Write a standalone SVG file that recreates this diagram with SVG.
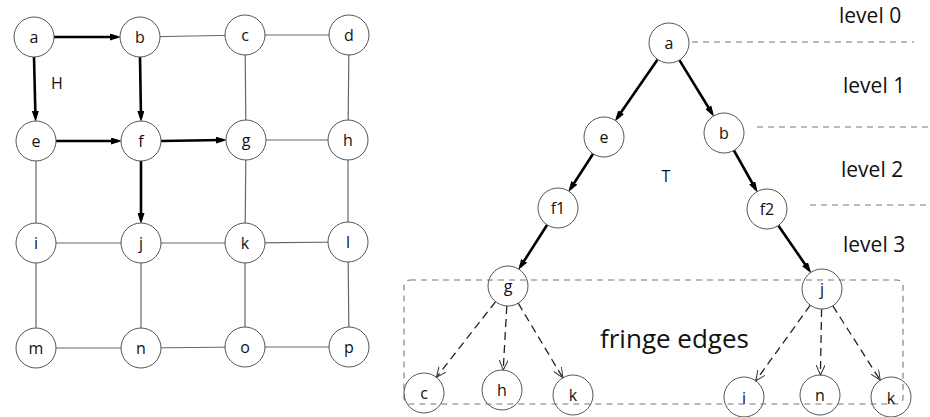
<svg xmlns="http://www.w3.org/2000/svg" width="930" height="417" viewBox="0 0 930 417">
<defs>
<style>
.n circle{fill:#fff;stroke:#555;stroke-width:1}
.n text{font-family:"Open Sans","Noto Sans",sans-serif;font-size:16px;fill:#111;text-anchor:middle}
.thin{stroke:#666;stroke-width:1.2;fill:none}
.thick{stroke:#000;stroke-width:2.6;fill:none;marker-end:url(#ah)}
.dash{stroke:#222;stroke-width:1.3;stroke-dasharray:8,5;fill:none;marker-end:url(#oh)}
.lev{stroke:#777;stroke-width:1.1;stroke-dasharray:6,5;fill:none}
.big{font-family:"Open Sans","Noto Sans",sans-serif;fill:#111}
</style>
<marker id="ah" markerUnits="userSpaceOnUse" markerWidth="12" markerHeight="7" refX="7" refY="3.5" orient="auto">
<path d="M0,0 L11,3.5 L0,7 z" fill="#000"/>
</marker>
<marker id="oh" markerUnits="userSpaceOnUse" markerWidth="11" markerHeight="10" refX="10" refY="4.5" orient="auto">
<path d="M0,0 L10,4.5 L0,9" fill="none" stroke="#333" stroke-width="1"/>
</marker>
</defs>
<rect width="930" height="417" fill="#fff"/>

<g id="connectors">
<line class="thin" x1="140" y1="37" x2="245" y2="35"/>
<line class="thin" x1="245" y1="35" x2="349" y2="35"/>
<line class="thin" x1="245" y1="35" x2="246" y2="140"/>
<line class="thin" x1="349" y1="35" x2="348" y2="140"/>
<line class="thin" x1="246" y1="140" x2="348" y2="140"/>
<line class="thin" x1="36" y1="141" x2="36" y2="243"/>
<line class="thin" x1="246" y1="140" x2="245" y2="243"/>
<line class="thin" x1="348" y1="140" x2="348" y2="242"/>
<line class="thin" x1="36" y1="243" x2="141" y2="243"/>
<line class="thin" x1="141" y1="243" x2="245" y2="243"/>
<line class="thin" x1="245" y1="243" x2="348" y2="242"/>
<line class="thin" x1="36" y1="243" x2="36" y2="348"/>
<line class="thin" x1="141" y1="243" x2="141" y2="348"/>
<line class="thin" x1="245" y1="243" x2="245" y2="347"/>
<line class="thin" x1="348" y1="242" x2="349" y2="347"/>
<line class="thin" x1="36" y1="348" x2="141" y2="348"/>
<line class="thin" x1="141" y1="348" x2="245" y2="347"/>
<line class="thin" x1="245" y1="347" x2="349" y2="347"/>
<line class="thick" x1="54" y1="37" x2="117" y2="37"/>
<line class="thick" x1="34" y1="57" x2="35.5" y2="118"/>
<line class="thick" x1="140" y1="57" x2="141" y2="118"/>
<line class="thick" x1="56" y1="141" x2="118" y2="141"/>
<line class="thick" x1="161" y1="141" x2="223" y2="140"/>
<line class="thick" x1="141" y1="161" x2="141" y2="220"/>
<line class="lev" x1="692" y1="42" x2="914" y2="42"/>
<line class="lev" x1="757" y1="127" x2="930" y2="127"/>
<line class="lev" x1="810" y1="205" x2="930" y2="205"/>
<line class="thick" x1="657.6" y1="59.4" x2="617.1" y2="118.1"/>
<line class="thick" x1="679.4" y1="60.1" x2="712.0" y2="113.3"/>
<line class="thick" x1="593.1" y1="153.8" x2="570.5" y2="188.7"/>
<line class="thick" x1="733.9" y1="150.4" x2="755.6" y2="189.0"/>
<line class="thick" x1="547.2" y1="224.8" x2="520.4" y2="266.7"/>
<line class="thick" x1="778.3" y1="225.5" x2="809.0" y2="270.0"/>
<rect class="lev" x="404" y="280" width="499" height="124" rx="6"/>
<line class="dash" x1="495.6" y1="301.7" x2="436.4" y2="377.3"/>
<line class="dash" x1="506.8" y1="306" x2="503.2" y2="370"/>
<line class="dash" x1="518.2" y1="303.2" x2="562.8" y2="377.8"/>
<line class="dash" x1="810.3" y1="305.2" x2="755.7" y2="380.8"/>
<line class="dash" x1="821.6" y1="309" x2="820.4" y2="375"/>
<line class="dash" x1="832.8" y1="305.8" x2="880.2" y2="380.2"/>
</g>

<g id="grid-a" class="n"><circle cx="34" cy="37" r="20"/><text x="34" y="42.5">a</text></g>
<g id="grid-b" class="n"><circle cx="140" cy="37" r="20"/><text x="140" y="42.5">b</text></g>
<g id="grid-c" class="n"><circle cx="245" cy="35" r="20"/><text x="245" y="40.5">c</text></g>
<g id="grid-d" class="n"><circle cx="349" cy="35" r="20"/><text x="349" y="40.5">d</text></g>
<g id="grid-e" class="n"><circle cx="36" cy="141" r="20"/><text x="36" y="146.5">e</text></g>
<g id="grid-f" class="n"><circle cx="141" cy="141" r="20"/><text x="141" y="146.5">f</text></g>
<g id="grid-g" class="n"><circle cx="246" cy="140" r="20"/><text x="246" y="145.5">g</text></g>
<g id="grid-h" class="n"><circle cx="348" cy="140" r="20"/><text x="348" y="145.5">h</text></g>
<g id="grid-i" class="n"><circle cx="36" cy="243" r="20"/><text x="36" y="248.5">i</text></g>
<g id="grid-j" class="n"><circle cx="141" cy="243" r="20"/><text x="141" y="248.5">j</text></g>
<g id="grid-k" class="n"><circle cx="245" cy="243" r="20"/><text x="245" y="248.5">k</text></g>
<g id="grid-l" class="n"><circle cx="348" cy="242" r="20"/><text x="348" y="247.5">l</text></g>
<g id="grid-m" class="n"><circle cx="36" cy="348" r="20"/><text x="36" y="353.5">m</text></g>
<g id="grid-n" class="n"><circle cx="141" cy="348" r="20"/><text x="141" y="353.5">n</text></g>
<g id="grid-o" class="n"><circle cx="245" cy="347" r="20"/><text x="245" y="352.5">o</text></g>
<g id="grid-p" class="n"><circle cx="349" cy="347" r="20"/><text x="349" y="352.5">p</text></g>
<text class="big" x="57" y="89" font-size="16" text-anchor="middle">H</text>

<g id="tree-a" class="n"><circle cx="669" cy="43" r="20"/><text x="669" y="48.5">a</text></g>
<g id="tree-e" class="n"><circle cx="604" cy="137" r="20"/><text x="604" y="142.5">e</text></g>
<g id="tree-b" class="n"><circle cx="724" cy="133" r="20"/><text x="724" y="138.5">b</text></g>
<g id="tree-f1" class="n"><circle cx="558" cy="208" r="20"/><text x="558" y="213.5">f1</text></g>
<g id="tree-f2" class="n"><circle cx="767" cy="209" r="20"/><text x="767" y="214.5">f2</text></g>
<g id="tree-g" class="n"><circle cx="508" cy="286" r="20" style="fill:none"/><text x="508" y="291.5">g</text></g>
<g id="tree-j" class="n"><circle cx="822" cy="289" r="20" style="fill:none"/><text x="822" y="294.5">j</text></g>
<g id="leaf-c" class="n"><circle cx="424" cy="393" r="20" style="fill:none"/><text x="424" y="399">c</text></g>
<g id="leaf-h" class="n"><circle cx="502" cy="390" r="20" style="fill:none"/><text x="502" y="395.5">h</text></g>
<g id="leaf-k" class="n"><circle cx="573" cy="395" r="20" style="fill:none"/><text x="573" y="401">k</text></g>
<g id="leaf-i" class="n"><circle cx="744" cy="397" r="20" style="fill:none"/><text x="744" y="404">i</text></g>
<g id="leaf-n" class="n"><circle cx="820" cy="395" r="20" style="fill:none"/><text x="820" y="400.5">n</text></g>
<g id="leaf-k2" class="n"><circle cx="891" cy="397" r="20" style="fill:none"/><text x="891" y="404">k</text></g>
<text class="big" x="666" y="182" font-size="16" text-anchor="middle">T</text>

<text class="big" x="839" y="23" font-size="21">level 0</text>
<text class="big" x="843" y="93" font-size="21">level 1</text>
<text class="big" x="841" y="177" font-size="21">level 2</text>
<text class="big" x="843" y="252" font-size="21">level 3</text>
<text class="big" x="600" y="348" font-size="26">fringe edges</text>
</svg>
